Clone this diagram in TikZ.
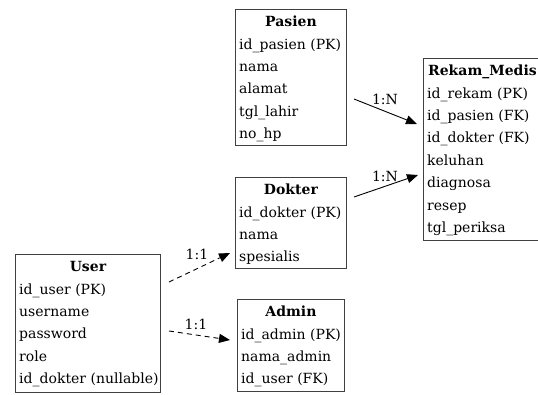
\documentclass[tikz,border=0pt]{standalone}
\usepackage{fontspec}
\setmainfont{DejaVu Serif}
\usetikzlibrary{arrows.meta,calc}

% One entity box: name, left x, top y, width, height, title, attribute list
\newcommand\erentity[7]{%
  \node[tbl, minimum width=#4pt, minimum height=#5pt] (#1) at (#2,#3) {};
  \node[ttl] (#1-title) at ($(#1.north)+(0,17)$) {#6};
  \foreach \attr [count=\i from 0] in {#7}{%
    \node[attrrow] (#1-\i) at ($(#1.north west)+(4,40+22.4*\i)$) {\attr};
  }%
}

\begin{document}
\begin{tikzpicture}[
  x=1pt, y=-1pt,
  tbl/.style={draw=black!75, line width=0.9pt, inner sep=0pt, anchor=north west},
  ttl/.style={anchor=base, inner sep=0pt, font=\fontsize{14}{16}\selectfont\bfseries},
  attrrow/.style={anchor=base west, inner sep=0pt, font=\fontsize{14}{16}\selectfont},
  rel/.style={inner sep=0pt, font=\fontsize{14}{16}\selectfont},
  link/.style={line width=0.9pt, -{Triangle[length=11pt,width=9pt]}},
  optlink/.style={link, dash pattern=on 5pt off 4pt},
]
\fill[white] (0,0) rectangle (538,394);
\clip (0,0) rectangle (538,394);

\erentity{pasien}{235}{9}{111}{136}{Pasien}
  {id\_pasien (PK),nama,alamat,tgl\_lahir,no\_hp}
\erentity{rekam}{423}{58}{118}{182}{Rekam\_Medis}
  {id\_rekam (PK),id\_pasien (FK),id\_dokter (FK),keluhan,diagnosa,resep,tgl\_periksa}
\erentity{dokter}{235}{177}{111}{91}{Dokter}
  {id\_dokter (PK),nama,spesialis}
\erentity{admin}{237}{299}{107}{92}{Admin}
  {id\_admin (PK),nama\_admin,id\_user (FK)}
\erentity{user}{15}{254}{145}{138}{User}
  {id\_user (PK),username,password,role,id\_dokter (nullable)}

% connector end points
\coordinate (pr1) at (354,99);  \coordinate (pr2) at (417,124);
\coordinate (dr1) at (354,197); \coordinate (dr2) at (418,175);
\coordinate (ud1) at (169,282); \coordinate (ud2) at (230,253);
\coordinate (ua1) at (169,331); \coordinate (ua2) at (230,340);

\draw[link] (pr1) -- (pr2);
\draw[link] (dr1) -- (dr2);
\draw[optlink] (ud1) -- (ud2);
\draw[optlink] (ua1) -- (ua2);

\node[rel] (lpr) at (385,99) {1:N};
\node[rel] (ldr) at (385,176) {1:N};
\node[rel] (lud) at (197,254) {1:1};
\node[rel] (lua) at (196,324) {1:1};
\end{tikzpicture}
\end{document}
